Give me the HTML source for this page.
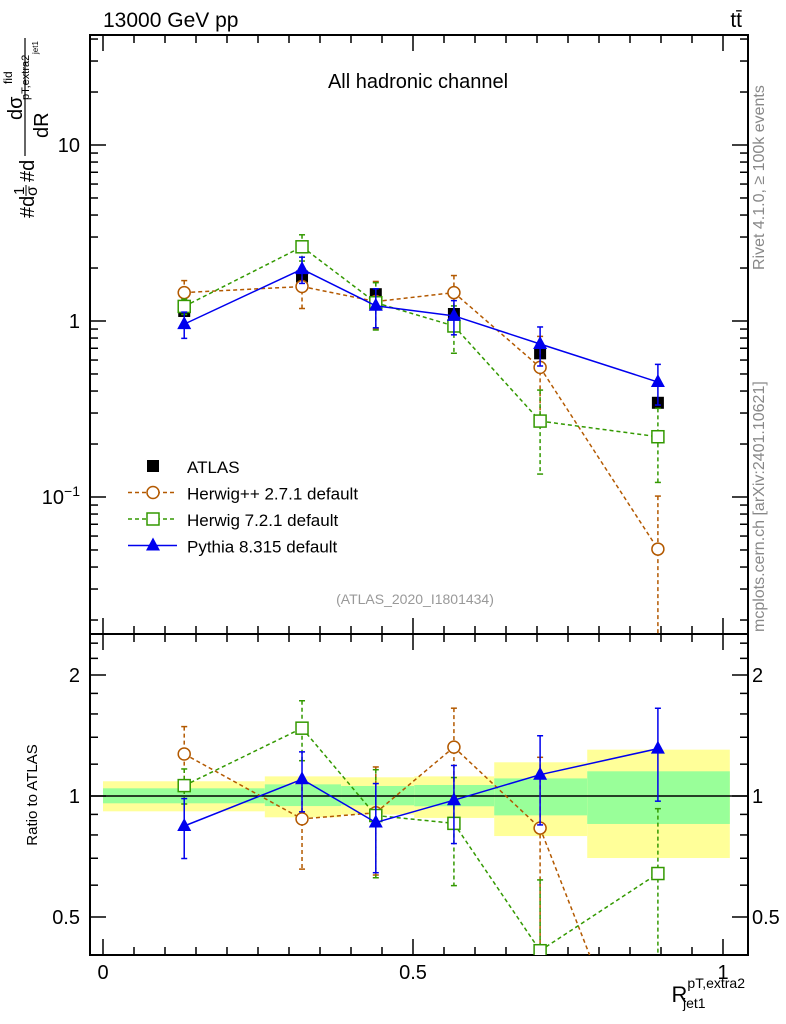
<!DOCTYPE html>
<html><head><meta charset="utf-8"><style>
body{margin:0;background:#fff;width:786px;height:1024px;overflow:hidden}
svg{display:block;font-family:"Liberation Sans",sans-serif}
</style></head><body>
<svg id="c" width="786" height="1024" viewBox="0 0 786 1024"></svg>
<script>
const xCenters=[0.131,0.321,0.440,0.566,0.705,0.895];
const binEdges=[0,0.261,0.384,0.502,0.631,0.781,1.011];
const atlasVals=[1.14,1.79,1.42,1.096,0.655,0.343];
const atlasErr=[0.05,0.05,0.05,0.05,0.06,0.06];
const herwigppVals=[1.45,1.57,1.29,1.45,0.545,0.0506];
const herwigppErr=[0.17,0.25,0.3,0.25,0.5,1.0];
const herwig7Vals=[1.21,2.64,1.27,0.937,0.27,0.22];
const herwig7Err=[0.1,0.17,0.3,0.3,0.5,0.45];
const pythiaVals=[0.96,1.97,1.22,1.07,0.74,0.45];
const pythiaErr=[0.17,0.17,0.25,0.22,0.25,0.26];
const bandYellowUp=[1.088,1.119,1.113,1.119,1.213,1.304];
const bandYellowDn=[0.916,0.885,0.899,0.882,0.795,0.701];
const bandGreenUp=[1.045,1.069,1.059,1.065,1.106,1.152];
const bandGreenDn=[0.959,0.944,0.948,0.943,0.895,0.852];
const xTicks=[0,0.5,1];const xTickLabels=["0","0.5","1"];

const S=document.getElementById('c');const NS='http://www.w3.org/2000/svg';
function el(t,a,p){const e=document.createElementNS(NS,t);for(const k in a)e.setAttribute(k,a[k]);(p||S).appendChild(e);return e;}
const L=90,R=748,T=35,MB=634,RB=955;
const YMAX=1000;
const clampY=y=>Math.max(0,Math.min(YMAX,y));
const X=v=>103+v*620;
const YMraw=v=>321-176*Math.log10(v);
const YRraw=v=>796-121*Math.log2(v);
const YM=v=>clampY(YMraw(v));
const YR=v=>clampY(YRraw(v));
const defs=el('defs',{});
const c1=el('clipPath',{id:'cm'},defs);el('rect',{x:L,y:T,width:R-L,height:MB-T},c1);
const c2=el('clipPath',{id:'cr'},defs);el('rect',{x:L,y:MB,width:R-L,height:RB-MB},c2);
const gb=el('g',{'clip-path':'url(#cr)'});

for(let i=0;i<6;i++){
 const r1=el('rect',{x:X(binEdges[i]),y:YR(bandYellowUp[i]),width:X(binEdges[i+1])-X(binEdges[i]),height:YR(bandYellowDn[i])-YR(bandYellowUp[i]),fill:'#ffff99'},gb);
 
 const r2=el('rect',{x:X(binEdges[i]),y:YR(bandGreenUp[i]),width:X(binEdges[i+1])-X(binEdges[i]),height:YR(bandGreenDn[i])-YR(bandGreenUp[i]),fill:'#99ff99'},gb);
 
}
el('line',{x1:L,x2:R,y1:YR(1),y2:YR(1),stroke:'#000','stroke-width':1.5});
el('rect',{x:L,y:T,width:R-L,height:MB-T,fill:'none',stroke:'#000','stroke-width':2});
el('rect',{x:L,y:MB,width:R-L,height:RB-MB,fill:'none',stroke:'#000','stroke-width':2});
for(let v=0;v<=1.0001;v+=0.05){const big=Math.abs(v*2-Math.round(v*2))<1e-6;const len=big?16:8;const x=X(v);
 for(const [y0,d] of [[MB,-1],[T,1],[RB,-1],[MB,1]]) el('line',{x1:x,x2:x,y1:y0,y2:y0+d*len,stroke:'#000','stroke-width':1.5});}
xTicks.forEach((v,i)=>{const t=el('text',{x:X(v),y:979,'font-size':20,'text-anchor':'middle'});t.textContent=xTickLabels[i];});
for(let d=-2;d<=1;d++)for(let m=1;m<10;m++){const v=m*Math.pow(10,d);const y=YM(v);if(y<T||y>MB)continue;const len=m==1?16:8;
 el('line',{x1:L,x2:L+len,y1:y,y2:y,stroke:'#000','stroke-width':1.5});el('line',{x1:R,x2:R-len,y1:y,y2:y,stroke:'#000','stroke-width':1.5});}
[[10,'10'],[1,'1']].forEach(([v,s])=>{const t=el('text',{x:80,y:YM(v)+7,'font-size':20,'text-anchor':'end'});t.textContent=s;});
{const t=el('text',{x:80,y:YM(0.1)+7,'font-size':20,'text-anchor':'end'});t.innerHTML='10<tspan dy="-8" font-size="14">−1</tspan>';}
for(const v of [0.5,0.6,0.7,0.8,0.9,1,1.2,1.4,1.6,1.8,2,2.2,2.4]){const y=YR(v);if(y<MB||y>RB)continue;const len=(v==0.5||v==1||v==2)?16:8;
 el('line',{x1:L,x2:L+len,y1:y,y2:y,stroke:'#000','stroke-width':1.5});el('line',{x1:R,x2:R-len,y1:y,y2:y,stroke:'#000','stroke-width':1.5});}
[[2,'2'],[1,'1'],[0.5,'0.5']].forEach(([v,s])=>{for(const [x,a] of [[80,'end'],[752,'start']]){const t=el('text',{x:x,y:YR(v)+7,'font-size':20,'text-anchor':a});t.textContent=s;}});
function marker(g,type,x,y,color){
 if(type=='sq')el('rect',{x:x-6,y:y-6,width:12,height:12,fill:'#000'},g);
 else if(type=='circ')el('circle',{cx:x,cy:y,r:6,fill:'#fff',stroke:color,'stroke-width':1.5},g);
 else if(type=='osq')el('rect',{x:x-6,y:y-6,width:12,height:12,fill:'#fff',stroke:color,'stroke-width':1.5},g);
 else el('polygon',{points:`${x},${y-8} ${x-7},${y+5} ${x+7},${y+5}`,fill:color},g);
}
function series(name,vals,errs,color,dash,type,Yraw,clip,ratio){
 const g=el('g',{'clip-path':'url(#'+clip+')'});
 const Yf=v=>clampY(Yraw(v));
 const v=vals.map((a,i)=>ratio?a/atlasVals[i]:a);
 if(type!='sq'){
  for(let i=0;i<v.length-1;i++){
   let x1=X(xCenters[i]),y1=Yraw(v[i]),x2=X(xCenters[i+1]),y2=Yraw(v[i+1]);
   if(y1>YMAX&&y2>YMAX)continue;
   if(y2>YMAX){x2=x1+(x2-x1)*(YMAX-y1)/(y2-y1);y2=YMAX;}
   if(y1>YMAX){x1=x2+(x1-x2)*(YMAX-y2)/(y1-y2);y1=YMAX;}
   el('line',{x1:x1,y1:y1,x2:x2,y2:y2,stroke:color,'stroke-width':1.5,'stroke-dasharray':dash},g);
  }
 }
 v.forEach((a,i)=>{const x=X(xCenters[i]);const lo=Math.max(a*(1-errs[i]),1e-4);const y1=Yf(a*(1+errs[i])),y2=Yf(lo);
  el('line',{x1:x,x2:x,y1:y1,y2:y2,stroke:color,'stroke-width':1.5,'stroke-dasharray':dash},g);
  el('line',{x1:x-3,x2:x+3,y1:y1,y2:y1,stroke:color,'stroke-width':1.5},g);el('line',{x1:x-3,x2:x+3,y1:y2,y2:y2,stroke:color,'stroke-width':1.5},g);
  const ym=Yf(a);if(ym<990)marker(g,type,x,ym,color);});
}
const sers=[['herwigpp',herwigppVals,herwigppErr,'#b35900','4,3','circ'],['herwig7',herwig7Vals,herwig7Err,'#339900','4,3','osq'],['pythia',pythiaVals,pythiaErr,'#0000ee','none','tri']];
series('atlas-data',atlasVals,atlasErr,'#000','none','sq',YMraw,'cm',false);
for(const s of sers){series(s[0]+'-main',s[1],s[2],s[3],s[4],s[5],YMraw,'cm',false);series(s[0]+'-ratio',s[1],s[2],s[3],s[4],s[5],YRraw,'cr',true);}
const lg=el('g',{});
const leg=[['ATLAS','#000','none','sq'],['Herwig++ 2.7.1 default','#b35900','4,3','circ'],['Herwig 7.2.1 default','#339900','4,3','osq'],['Pythia 8.315 default','#0000ee','none','tri']];
leg.forEach((e,i)=>{const y=466+i*26.5;const g=el('g',{},lg);
 if(e[3]!='sq')el('line',{x1:128,x2:177,y1:y,y2:y,stroke:e[1],'stroke-width':1.5,'stroke-dasharray':e[2]},g);
 marker(g,e[3],153,y,e[1]);const t=el('text',{x:187,y:y+7,'font-size':17},g);t.textContent=e[0];});
function txt(s,a,name,p){const t=el('text',a,p);t.textContent=s;return t;}
txt('13000 GeV pp',{x:103,y:27,'font-size':21},'title-energy');
txt('tt̄',{x:742,y:27,'font-size':21,'text-anchor':'end'},'title-process');
txt('All hadronic channel',{x:418,y:88,'font-size':20,'text-anchor':'middle'},'channel-label');
txt('(ATLAS_2020_I1801434)',{x:415,y:604,'font-size':14,fill:'#999','text-anchor':'middle'},'analysis-id');
txt('Rivet 4.1.0, ≥ 100k events',{x:0,y:0,'font-size':16,fill:'#888',transform:'translate(764,270) rotate(-90)'},'rivet-label');
txt('mcplots.cern.ch [arXiv:2401.10621]',{x:0,y:0,'font-size':16,fill:'#888',transform:'translate(764,632) rotate(-90)'},'mcplots-label');
txt('Ratio to ATLAS',{x:0,y:0,'font-size':15,'text-anchor':'middle',transform:'translate(37,795) rotate(-90)'},'ratio-y-axis-title');
const yg=el('g',{transform:'translate(0,218) rotate(-90)'});

txt('#d',{x:0,y:34,'font-size':20},'y-title-part',yg);
txt('1',{x:23,y:24,'font-size':15},'y-title-part',yg);
el('line',{x1:22,x2:33,y1:26,y2:26,stroke:'#000','stroke-width':1},yg);
txt('σ',{x:22,y:37,'font-size':16},'y-title-part',yg);
txt('#d',{x:36,y:34,'font-size':20},'y-title-part',yg);
el('line',{x1:62,x2:180,y1:25,y2:25,stroke:'#000','stroke-width':1.2},yg);
txt('dR',{x:80,y:48,'font-size':20},'y-title-part',yg);
txt('dσ',{x:98,y:22,'font-size':20},'y-title-part',yg);
txt('fid',{x:134,y:12,'font-size':12},'y-title-part',yg);
txt('pT,extra2',{x:118,y:29,'font-size':11},'y-title-part',yg);
txt('jet1',{x:164,y:38,'font-size':8},'y-title-part',yg);
const xt=el('text',{x:745,y:1002,'font-size':22,'text-anchor':'end'});xt.innerHTML='R<tspan font-size="14" dy="-14">pT,extra2</tspan><tspan font-size="14" dx="-62" dy="20">jet1</tspan>';

</script>
</body></html>
